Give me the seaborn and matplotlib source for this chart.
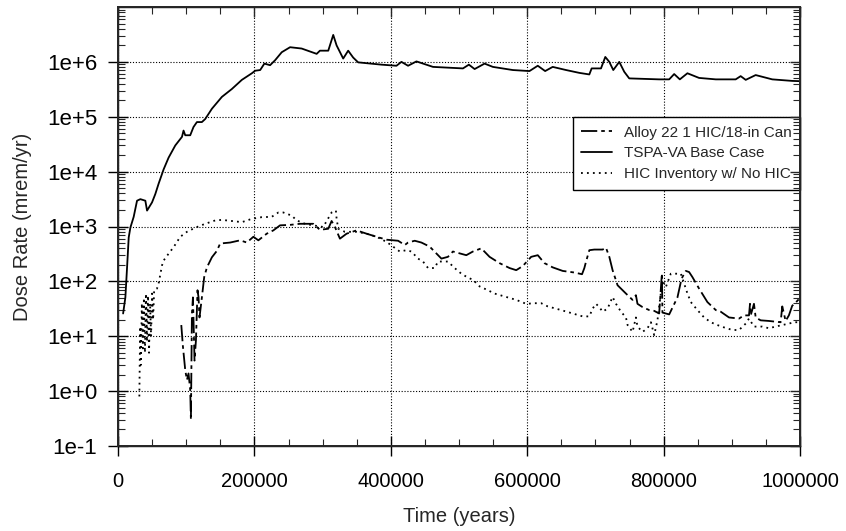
import numpy as np
import pandas as pd
import seaborn as sns
import matplotlib
matplotlib.use('Agg')
import matplotlib.pyplot as plt
from matplotlib.ticker import FixedLocator, MultipleLocator, LogLocator, FixedFormatter, NullFormatter

# Series names (legend order)
serie_alloy = 'Alloy 22 1 HIC/18-in Can'
serie_tspa = 'TSPA-VA Base Case'
serie_hic = 'HIC Inventory w/ No HIC'

# Time (years) and dose rate (mrem/yr)
alloy_t = [92800, 95200, 98600, 101100, 103400, 105900, 106900, 108400, 109900, 112200,
           114300, 116600, 118100, 119500, 123000, 126400, 130400, 137700, 145000, 149800,
           164400, 179100, 188900, 198500, 205800, 218100, 227800, 237600, 252200, 266900,
           286300, 296100, 308300, 313200, 318100, 325400, 335200, 349800, 364400, 379100,
           393700, 410700, 420500, 425300, 435100, 444900, 457000, 474200, 483800, 491100,
           510700, 520400, 532700, 544800, 559400, 574100, 583900, 593500, 605800, 615500,
           625300, 637400, 652100, 669200, 680400, 683800, 686300, 691100, 698400, 710600,
           715500, 720400, 725200, 732500, 744800, 754500, 759400, 761700, 769100, 778900,
           786200, 793500, 797500, 798300, 808200, 820300, 825300, 827600, 832600, 837400,
           842200, 852000, 864200, 876500, 883800, 895900, 910600, 917900, 925200, 926700,
           927700, 932500, 935000, 942300, 954400, 971600, 974000, 978900, 983700, 988600,
           992000, 1000000]
alloy_dose = [16, 6.5, 2.4, 1.6, 2.1, 1.05, 0.3, 26, 51, 3.6,
              8.5, 69, 51, 22, 51, 120, 180, 275, 360, 490,
              510, 560, 510, 650, 560, 740, 850, 1050, 1070, 1120,
              1120, 870, 910, 1260, 980, 600, 740, 850, 740, 650,
              575, 550, 460, 510, 550, 510, 430, 260, 280, 350,
              300, 350, 400, 280, 215, 175, 160, 190, 280, 300,
              215, 180, 155, 145, 135, 175, 230, 370, 380, 380,
              410, 280, 160, 85, 60, 46, 56, 39, 34, 30,
              29, 26, 140, 27, 25, 51, 98, 120, 155, 148,
              120, 74, 42, 30, 28, 22, 21, 24, 24, 39,
              24, 39, 22, 19.5, 19, 18, 35, 19, 24, 36,
              39, 50]

tspa_t = [7500, 10800, 13300, 15700, 18100, 23000, 27900, 32800, 40100, 42600,
          49900, 54700, 59500, 66900, 74200, 84000, 93800, 96100, 98600, 105900,
          110700, 115700, 123000, 127900, 137700, 152300, 166900, 181600, 196300, 201100,
          208500, 214600, 223000, 230300, 240100, 252300, 269300, 291300, 296100, 308300,
          315600, 320500, 330200, 337500, 344800, 352100, 386400, 408300, 415600, 425300,
          437600, 461900, 505800, 514500, 522900, 537500, 549700, 578900, 603300, 615500,
          626300, 637400, 657000, 676500, 691100, 694500, 708200, 714500, 720400, 726200,
          735000, 742300, 749600, 793500, 808200, 815500, 823800, 834900, 852000, 876500,
          905700, 913000, 920400, 935000, 959300, 988600, 1000000]
tspa_dose = [26, 51, 180, 630, 950, 1500, 2950, 3150, 2950, 1950,
             2750, 3900, 6000, 11000, 18000, 30000, 43000, 56000, 46000, 46000,
             65000, 80000, 80000, 91000, 140000, 230000, 320000, 470000, 620000, 690000,
             710000, 930000, 870000, 1.07e6, 1.5e6, 1.85e6, 1.75e6, 1.4e6, 1.6e6, 1.6e6,
             3.1e6, 2.0e6, 1.15e6, 1.6e6, 1.2e6, 980000, 890000, 850000, 1.0e6, 850000,
             1.02e6, 810000, 760000, 890000, 740000, 930000, 810000, 710000, 680000, 850000,
             680000, 810000, 710000, 630000, 590000, 760000, 760000, 1.23e6, 1.0e6, 710000,
             1.0e6, 660000, 500000, 480000, 480000, 600000, 480000, 620000, 510000, 480000,
             480000, 550000, 470000, 575000, 480000, 450000, 445000]

hic_t = [31300, 32500, 33500, 35000, 36500, 38000, 39500, 41000, 42500, 44000,
         45500, 47000, 48500, 50000, 51500, 53000, 57200, 59500, 64500, 66900,
         74200, 81500, 91300, 101100, 113200, 127900, 142500, 152300, 166900, 181600,
         196300, 210800, 225400, 235100, 242400, 254700, 262000, 274200, 286300, 300900,
         313200, 319500, 320500, 322900, 332700, 349800, 364400, 379100, 393700, 403300,
         413100, 422900, 430300, 439900, 447200, 454600, 464400, 469200, 483800, 493600,
         503400, 513100, 520400, 530200, 542300, 552100, 569200, 583900, 598500, 610700,
         620500, 630100, 649700, 666700, 681300, 691100, 696000, 700900, 705700, 710600,
         717900, 725200, 730200, 737500, 744800, 747200, 754500, 759400, 761700, 769100,
         776400, 781400, 786200, 791000, 798300, 803300, 810600, 817900, 825300, 830100,
         835000, 839900, 849600, 859400, 869200, 878800, 888600, 900800, 910600, 920400,
         925200, 932500, 944700, 954400, 964200, 974000, 983700, 991000, 1000000]
hic_dose = [0.8, 15, 3, 40, 6, 50, 5, 60, 8, 55,
            5, 40, 10, 60, 20, 70, 74, 91, 195, 240,
            320, 420, 650, 800, 950, 1120, 1290, 1320, 1260, 1200,
            1380, 1480, 1500, 1800, 1800, 1580, 1290, 1120, 1050, 980,
            1800, 1950, 1400, 910, 800, 800, 740, 650, 525, 430,
            350, 370, 350, 260, 230, 175, 175, 230, 230, 175,
            138, 117, 107, 81, 69, 60, 52, 46, 39, 40,
            40, 35, 30, 26, 23, 23, 32, 39, 34, 28,
            32, 52, 39, 28, 22, 16, 12, 22, 15, 12,
            14, 18, 10.5, 19.5, 105, 79, 138, 138, 138, 91,
            60, 42, 30, 22, 18, 16, 14.5, 13, 13, 17,
            21, 15, 15, 14, 15, 16, 17, 18, 18]

# Axis ticks
xticks = [0, 200000, 400000, 600000, 800000, 1000000]
xtick_labels = ['0', '200000', '400000', '600000', '800000', '1000000']
yticks = [1e-1, 1e0, 1e1, 1e2, 1e3, 1e4, 1e5, 1e6]
ytick_labels = ['1e-1', '1e+0', '1e+1', '1e+2', '1e+3', '1e+4', '1e+5', '1e+6']

datos = pd.concat([
    pd.DataFrame({'Time': alloy_t, 'Dose': alloy_dose, 'Caso': serie_alloy}),
    pd.DataFrame({'Time': tspa_t, 'Dose': tspa_dose, 'Caso': serie_tspa}),
    pd.DataFrame({'Time': hic_t, 'Dose': hic_dose, 'Caso': serie_hic}),
], ignore_index=True)

sns.set_theme(style='ticks')
plt.rcParams['font.family'] = ['Liberation Sans', 'DejaVu Sans']

fig = plt.figure(figsize=(8.46, 5.31), dpi=100)
ax = fig.add_axes([118 / 846, 85 / 531, 682 / 846, 439 / 531])

colores = {serie_alloy: 'black', serie_tspa: 'black', serie_hic: 'black'}
trazos = {serie_alloy: (9, 2.2, 2, 2.2), serie_tspa: '', serie_hic: (1, 2.3)}
sns.lineplot(data=datos, x='Time', y='Dose', hue='Caso', style='Caso',
             palette=colores, dashes=trazos, estimator=None, sort=False,
             linewidth=1.3, ax=ax)

ax.set_yscale('log')
ax.set_xlim(0, 1000000)
ax.set_ylim(0.1, 1e7)

ax.xaxis.set_major_locator(FixedLocator(xticks))
ax.xaxis.set_major_formatter(FixedFormatter(xtick_labels))
ax.xaxis.set_minor_locator(MultipleLocator(50000))
ax.yaxis.set_major_locator(FixedLocator(yticks))
ax.yaxis.set_major_formatter(FixedFormatter(ytick_labels))
ax.yaxis.set_minor_locator(LogLocator(base=10, subs=np.arange(2, 10), numticks=20))
ax.yaxis.set_minor_formatter(NullFormatter())

ax.tick_params(which='major', direction='inout', length=14, width=1.0, colors='black')
ax.tick_params(which='minor', direction='in', length=5, width=0.8)
ax.tick_params(axis='x', which='major', pad=12, labelsize=14.5)
ax.tick_params(axis='y', which='major', pad=8, labelsize=16)

ax.grid(True, which='major', color='black', linestyle=(0, (1, 1.6)), linewidth=0.8)
for s in ax.spines.values():
    s.set_linewidth(1.0)
    s.set_color('black')

# ticks on top and right, pointing inwards only
axt = ax.twiny()
axt.set_xlim(ax.get_xlim())
axt.xaxis.set_major_locator(FixedLocator(xticks))
axt.xaxis.set_minor_locator(MultipleLocator(50000))
axt.tick_params(which='major', direction='in', length=7, width=1.0, labeltop=False)
axt.tick_params(which='minor', direction='in', length=5, width=0.8)

axr = ax.twinx()
axr.set_yscale('log')
axr.set_ylim(ax.get_ylim())
axr.yaxis.set_major_locator(FixedLocator(yticks))
axr.yaxis.set_minor_locator(LogLocator(base=10, subs=np.arange(2, 10), numticks=20))
axr.yaxis.set_minor_formatter(NullFormatter())
axr.tick_params(which='major', direction='in', length=7, width=1.0, labelright=False)
axr.tick_params(which='minor', direction='in', length=5, width=0.8)

ax.set_xlabel('Time (years)', fontsize=14.5, labelpad=11)
ax.set_ylabel('Dose Rate (mrem/yr)', fontsize=14.5, labelpad=11)

handles, labels = ax.get_legend_handles_labels()
ley = ax.legend(handles, labels, loc='upper right', bbox_to_anchor=(1.0, 0.749),
                frameon=True, fancybox=False, edgecolor='black', framealpha=1,
                fontsize=11, handlelength=2.0, borderaxespad=0, labelspacing=0.45,
                borderpad=0.55)
ley.get_frame().set_linewidth(1.0)
ley.set_zorder(5)

plt.savefig('out.png', dpi=100)
